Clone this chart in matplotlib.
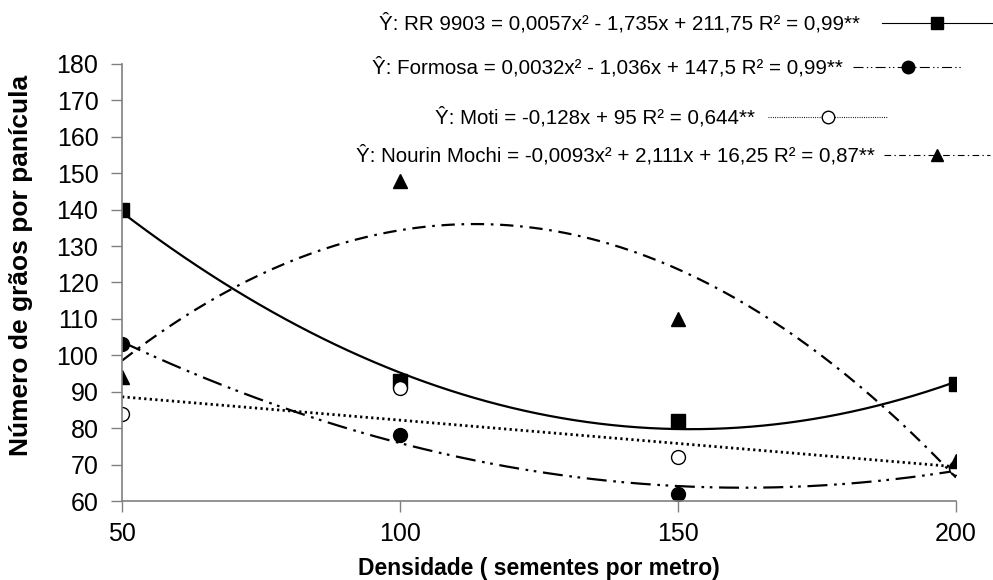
import numpy as np
import matplotlib
matplotlib.use("Agg")
import matplotlib.pyplot as plt
from matplotlib.lines import Line2D

plt.rcParams['font.family'] = ['Liberation Sans', 'DejaVu Sans']

densidade = [50, 100, 150, 200]

rr9903 = [140, 93, 82, 92]
formosa = [103, 78, 62, 69]
moti = [84, 91, 72, 69]
nourin_mochi = [94, 148, 110, 71]

labels = [
    "Ŷ: RR 9903 = 0,0057x² - 1,735x + 211,75 R² = 0,99**",
    "Ŷ: Formosa = 0,0032x² - 1,036x + 147,5 R² = 0,99**",
    "Ŷ: Moti = -0,128x + 95 R² = 0,644**",
    "Ŷ: Nourin Mochi = -0,0093x² + 2,111x + 16,25 R² = 0,87**",
]

y_ticks = list(range(60, 181, 10))
x_ticks = [50, 100, 150, 200]


def main():
    fig = plt.figure(figsize=(9.93, 5.80), dpi=100)
    ax = fig.add_axes([0.1229, 0.1362, 0.8398, 0.7535])

    # values, degree of trend, marker, face colour, line style, line width
    series = [
        (rr9903, 2, 's', 'black', '-', 1.6),
        (formosa, 2, 'o', 'black', (0, (9, 3, 1.2, 2.5, 1.2, 3)), 1.6),
        (moti, 1, 'o', 'white', (0, (0.8, 1.2)), 2.0),
        (nourin_mochi, 2, '^', 'black', (0, (6, 3, 1.2, 3)), 1.6),
    ]

    xs = np.linspace(50, 200, 200)
    for vals, deg, mk, fc, ls, lw in series:
        coef = np.polyfit(densidade, vals, deg)
        ax.plot(xs, np.polyval(coef, xs), color='black', lw=lw, linestyle=ls)
        ax.plot(densidade, vals, linestyle='none', marker=mk, markersize=10,
                markerfacecolor=fc, markeredgecolor='black', markeredgewidth=1.0)

    ax.set_xlim(50, 200)
    ax.set_ylim(60, 180)
    ax.set_xticks(x_ticks)
    ax.set_yticks(y_ticks)
    ax.tick_params(axis='both', labelsize=18, length=8, width=1, color='#808080',
                   direction='out')
    ax.tick_params(axis='y', pad=9)
    ax.tick_params(axis='x', pad=7)
    for side in ['top', 'right']:
        ax.spines[side].set_visible(False)
    for side in ['left', 'bottom']:
        ax.spines[side].set_color('#808080')
        ax.spines[side].set_linewidth(1.2)

    ax.set_xlabel("Densidade ( sementes por metro)", fontsize=16.5, fontweight='bold')
    ax.set_ylabel("Número de grãos por panícula", fontsize=19, fontweight='bold')
    ax.xaxis.set_label_coords(0.5, -0.128)
    ax.yaxis.set_label_coords(-0.107, 0.538)

    # legend drawn by hand, entries placed like the Excel original
    W, H = 993.0, 580.0
    entries = [
        # text right end, line start, line end, marker x, y (pixels)
        (860, 882, 993, 937, 23),
        (843, 853, 963, 908, 67),
        (755, 768, 888, 828, 117),
        (875, 884, 990, 937, 155),
    ]
    for (tx, l0, l1, mx, py), lab, s in zip(entries, labels, series):
        yf = 1 - py / H
        fig.text(tx / W, yf, lab, ha='right', va='center', fontsize=14.8)
        fig.add_artist(Line2D([l0 / W, l1 / W], [yf, yf], transform=fig.transFigure,
                              color='black', lw=0.8, linestyle=s[4]))
        fig.add_artist(Line2D([mx / W], [yf], transform=fig.transFigure,
                              marker=s[2], markersize=9, markerfacecolor=s[3],
                              markeredgecolor='black', linestyle='none'))

    fig.savefig('out.png', dpi=100)


if __name__ == '__main__':
    main()
